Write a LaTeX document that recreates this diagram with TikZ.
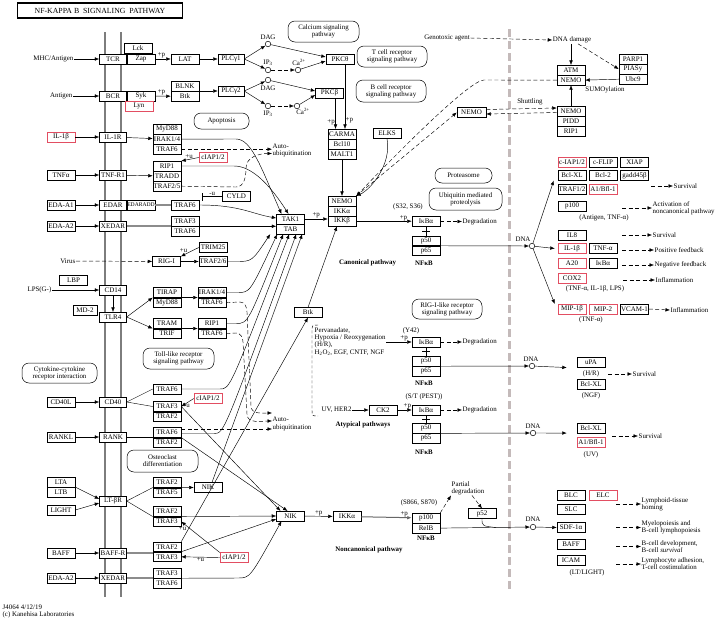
\documentclass[tikz,border=0pt]{standalone}
\usepackage{fontspec}
\setmainfont{Liberation Serif}
\usetikzlibrary{arrows.meta,positioning,calc}
\definecolor{vermelho}{RGB}{226,78,98}
\definecolor{membrana}{RGB}{125,125,125}
\definecolor{nucleo}{RGB}{196,186,186}
\newcommand\fgene{\fontsize{7}{7.4}\selectfont}
\newcommand\ftexto{\fontsize{6.9}{7.2}\selectfont}

\begin{document}
\begin{tikzpicture}[x=1pt, y=-1pt,
caixa/.style={draw, line width=0.5pt, fill=white, minimum width=28pt, minimum height=9.6pt, inner sep=0pt, font=\fgene},
verm/.style={caixa, draw=vermelho},
recep/.style={caixa, minimum width=27pt},
via/.style={draw, line width=0.5pt, rounded corners=7pt, align=center, inner sep=1pt, font=\ftexto},
rotulo/.style={font=\ftexto, inner sep=0.5pt, align=left},
negrito/.style={font=\ftexto\bfseries, inner sep=0.5pt},
seta/.style={-{Latex[length=4.5pt,width=3.6pt]}, line width=0.45pt},
tracejada/.style={seta, dash pattern=on 4pt off 2.5pt},
liga/.style={line width=1.4pt, draw=black!45},
bolinha/.style={circle, draw, line width=0.5pt, fill=white, minimum size=5.5pt, inner sep=0pt},
node distance=0pt
]
\useasboundingbox (0,0) rectangle (720,621);

% membrana e nucleo
\draw[membrana, line width=2pt] (105,32) -- (105,597);
\draw[membrana, line width=2pt] (121,32) -- (121,597);
\draw[nucleo, line width=3pt, dash pattern=on 8pt off 4pt] (509,29) -- (509,590);

\node[draw, line width=1.3pt, minimum width=165pt, minimum height=15pt, font=\fontsize{7.8}{8}\selectfont] (titulo) at (100,10.5) {NF-KAPPA B\ \ SIGNALING\ \ PATHWAY};

% ligantes
\node[rotulo, anchor=east] (mhc) at (74,59) {MHC/Antigen};
\node[rotulo, anchor=east] (antigen) at (73,96) {Antigen};
\node[verm] (il1b) at (61,137) {IL-1β};
\node[caixa] (tnfa) at (61,175) {TNFα};
\node[caixa] (edaa1) at (61,205) {EDA-A1};
\node[caixa] (edaa2) at (61,226) {EDA-A2};
\node[rotulo, anchor=east] (virus) at (76,261) {Virus};
\node[caixa] (lbp) at (73.5,280) {LBP};
\node[rotulo, anchor=east] (lps) at (52,290) {LPS(G-)};
\node[caixa, minimum width=24pt] (md2) at (85,310) {MD-2};
\node[via, minimum width=75pt, minimum height=20pt] (citoc) at (59.5,373) {Cytokine-cytokine\\receptor interaction};
\node[caixa] (cd40l) at (61,402) {CD40L};
\node[caixa] (rankl) at (61,437) {RANKL};
\node[caixa] (lta) at (61,482) {LTA};
\node[caixa, below=of lta] (ltb) {LTB};
\node[caixa] (light) at (61,510) {LIGHT};
\node[caixa] (baff) at (61,553) {BAFF};
\node[caixa] (edaa2b) at (61,578) {EDA-A2};

% receptores
\node[recep] (tcr) at (113,59) {TCR};
\node[caixa, right=of tcr] (zap) {Zap};
\node[caixa] (lck) at (138,48.4) {Lck};
\node[recep] (bcr) at (113,96) {BCR};
\node[caixa, right=of bcr] (syk) {Syk};
\node[verm, below=of syk, xshift=-2pt] (lyn) {Lyn};
\node[recep] (il1r) at (113,137) {IL-1R};
\node[recep] (tnfr1) at (113,175) {TNF-R1};
\node[recep] (edar) at (113,205) {EDAR};
\node[caixa, right=of edar, font=\fontsize{5.6}{6}\selectfont] (edaradd) {EDARADD};
\node[recep] (xedar) at (113,226) {XEDAR};
\node[recep] (cd14) at (113,290) {CD14};
\node[recep] (tlr4) at (113,317) {TLR4};
\node[recep] (cd40) at (113,402) {CD40};
\node[recep] (rank) at (113,437) {RANK};
\node[recep] (ltbr) at (113,501) {LT-βR};
\node[recep] (baffr) at (113,553) {BAFF-R};
\node[recep] (xedar2) at (113,578) {XEDAR};

% adaptadores
\node[caixa] (lat) at (185,59) {LAT};
\node[caixa, minimum width=26pt] (plcg1) at (231,59) {PLCγ1};
\node[caixa] (blnk) at (185,86.2) {BLNK};
\node[caixa, below=of blnk] (btk) {Btk};
\node[caixa, minimum width=26pt] (plcg2) at (231,91) {PLCγ2};
\node[caixa] (myd88) at (167,129) {MyD88};
\node[caixa, below=of myd88] (irak14) {IRAK1/4};
\node[caixa, below=of irak14] (traf6a) {TRAF6};
\node[verm] (ciap1) at (213,157.5) {cIAP1/2};
\node[caixa] (rip1a) at (167,166) {RIP1};
\node[caixa, below=of rip1a] (tradd) {TRADD};
\node[caixa, below=of tradd] (traf25) {TRAF2/5};
\node[caixa] (traf6e) at (185,205) {TRAF6};
\node[caixa] (cyld) at (236.5,196.5) {CYLD};
\coordinate (cyldfim) at (202,196.5);
\node[caixa] (traf3e) at (185,221.2) {TRAF3};
\node[caixa, below=of traf3e] (traf6f) {TRAF6};
\node[caixa] (trim25) at (213,247.5) {TRIM25};
\node[caixa] (rig) at (166.5,261.5) {RIG-I};
\node[caixa] (traf26) at (213,261.5) {TRAF2/6};
\node[caixa] (tirap) at (167,292.5) {TIRAP};
\node[caixa, below=of tirap] (myd88b) {MyD88};
\node[caixa] (irak14b) at (212,292.5) {IRAK1/4};
\node[caixa, below=of irak14b] (traf6g) {TRAF6};
\node[caixa] (tram) at (167,323.5) {TRAM};
\node[caixa, below=of tram] (trif) {TRIF};
\node[caixa] (rip1b) at (212,323.5) {RIP1};
\node[caixa, below=of rip1b] (traf6h) {TRAF6};
\node[via, minimum width=71pt, minimum height=21pt] (tollvia) at (178.5,358.5) {Toll-like receptor\\signaling pathway};
\node[caixa] (traf6d) at (167,389) {TRAF6};
\node[verm] (ciap2) at (208,398.5) {cIAP1/2};
\node[caixa] (traf3c) at (167,406.5) {TRAF3};
\node[caixa, below=of traf3c] (traf2c) {TRAF2};
\node[caixa] (traf6r) at (167,432.5) {TRAF6};
\node[caixa, below=of traf6r] (traf2r) {TRAF2};
\node[via, minimum width=71pt, minimum height=22pt] (osteo) at (162.5,461) {Osteoclast\\differentiation};
\node[caixa] (traf2l) at (167,482.5) {TRAF2};
\node[caixa, below=of traf2l] (traf5l) {TRAF5};
\node[caixa] (nik1) at (208,487.5) {NIK};
\node[caixa] (traf2m) at (167,511.5) {TRAF2};
\node[caixa, below=of traf2m] (traf3m) {TRAF3};
\node[caixa] (traf2b) at (167,546.7) {TRAF2};
\node[caixa, below=of traf2b] (traf3b) {TRAF3};
\node[verm] (ciap3) at (234,557.5) {cIAP1/2};
\node[caixa] (traf3x) at (167,573.2) {TRAF3};
\node[caixa, below=of traf3x] (traf6x) {TRAF6};

% segundos mensageiros
\node[bolinha] (dag1) at (268,44) {};
\node[bolinha] (ip31) at (268,70) {};
\node[bolinha] (ca1) at (298,70) {};
\node[bolinha] (dag2) at (268,80) {};
\node[bolinha] (ip32) at (268,106) {};
\node[bolinha] (ca2) at (297,106) {};
\node[rotulo] (ldag1) at (268,37) {DAG};
\node[rotulo] (lip31) at (268,63) {IP\textsubscript{3}};
\node[rotulo] (lca1) at (299,62.5) {Ca\textsuperscript{2+}};
\node[rotulo] (ldag2) at (268,88) {DAG};
\node[rotulo] (lip32) at (268,113.5) {IP\textsubscript{3}};
\node[rotulo] (lca2) at (303,111) {Ca\textsuperscript{2+}};

% vias
\node[via, minimum width=71pt, minimum height=21pt] (calcio) at (323.5,31.5) {Calcium signaling\\pathway};
\node[via, minimum width=70pt, minimum height=21pt] (tcrvia) at (392,56.5) {T cell receptor\\signaling pathway};
\node[via, minimum width=70pt, minimum height=22pt] (bcrvia) at (391,91) {B cell receptor\\signaling pathway};
\node[via, minimum width=55pt, minimum height=16pt] (apopt) at (221.5,121) {Apoptosis};
\node[via, minimum width=57pt, minimum height=15pt] (proteas) at (463.5,175.5) {Proteasome};
\node[via, minimum width=73pt, minimum height=22pt] (ubiq) at (465.5,199) {Ubiquitin mediated\\proteolysis};
\node[via, minimum width=70pt, minimum height=20pt] (rigvia) at (447,309) {RIG-I-like receptor\\signaling pathway};

% nucleo central
\node[caixa] (pkct) at (340,59) {PKCθ};
\node[caixa] (pkcb) at (329.5,93) {PKCβ};
\node[caixa] (carma) at (342,134) {CARMA};
\node[caixa, below=of carma] (bcl10) {Bcl10};
\node[caixa, below=of bcl10] (malt1) {MALT1};
\node[caixa] (elks) at (387,133.5) {ELKS};
\node[caixa, minimum width=29pt] (nemo2) at (471.5,112.5) {NEMO};
\node[caixa] (nemo) at (342,201) {NEMO};
\node[caixa, below=of nemo] (ikka) {IKKα};
\node[caixa, below=of ikka] (ikkb) {IKKβ};
\node[caixa] (tak1) at (290.5,219) {TAK1};
\node[caixa, below=of tak1] (tab) {TAB};
\node[caixa] (btkm) at (308,312.5) {Btk};
\node[caixa] (ck2) at (383,410) {CK2};
\node[caixa] (nik) at (290.5,516) {NIK};
\node[caixa] (ikka2) at (347,516.5) {IKKα};

\node[caixa] (ikba1) at (426,221.5) {IκBα};
\node[caixa] (p50a) at (426,240.7) {p50};
\node[caixa, below=of p50a] (p65a) {p65};
\node[caixa] (ikba2) at (426,342) {IκBα};
\node[caixa] (p50b) at (426,361.2) {p50};
\node[caixa, below=of p50b] (p65b) {p65};
\node[caixa] (ikba3) at (426,410) {IκBα};
\node[caixa] (p50c) at (426,428.3) {p50};
\node[caixa, below=of p50c] (p65c) {p65};
\node[caixa] (p100) at (426,518) {p100};
\node[caixa, below=of p100] (relb) {RelB};
\node[caixa] (p52) at (482,513.5) {p52};

% alvos no nucleo
\node[caixa] (atm) at (571,70) {ATM};
\node[caixa, below=of atm] (nemo3) {NEMO};
\node[caixa] (parp1) at (633,59) {PARP1};
\node[caixa, below=of parp1] (piasy) {PIASy};
\node[caixa, below=of piasy] (ubc9) {Ubc9};
\node[caixa] (nemo4) at (571,111) {NEMO};
\node[caixa, below=of nemo4] (pidd) {PIDD};
\node[caixa, below=of pidd] (rip1c) {RIP1};

\node[verm] (ciap4) at (572,162.5) {c-IAP1/2};
\node[caixa] (cflip) at (603,162.5) {c-FLIP};
\node[caixa] (xiap) at (634.5,162.5) {XIAP};
\node[caixa] (bclxl) at (572,175.5) {Bcl-XL};
\node[caixa] (bcl2) at (603,175.5) {Bcl-2};
\node[caixa] (gadd) at (634.5,175.5) {gadd45β};
\node[caixa] (traf12) at (572,189) {TRAF1/2};
\node[verm] (a1) at (603,189) {A1/Bfl-1};
\node[caixa] (p100n) at (572,206) {p100};
\node[caixa] (il8) at (572,235.5) {IL8};
\node[verm] (il1bn) at (572,248.5) {IL-1β};
\node[caixa] (tnfan) at (603,248.5) {TNF-α};
\node[verm] (a20) at (572,263) {A20};
\node[caixa] (ikban) at (603,263) {IκBα};
\node[verm] (cox2) at (572,278) {COX2};
\node[verm] (mip1b) at (572,309) {MIP-1β};
\node[verm] (mip2) at (603,309) {MIP-2};
\node[caixa] (vcam) at (634.5,309) {VCAM-1};
\node[caixa] (upa) at (591,362.5) {uPA};
\node[caixa] (bclxl2) at (591,384.5) {Bcl-XL};
\node[caixa] (bclxl3) at (591,428) {Bcl-XL};
\node[verm] (a1b) at (591,442) {A1/Bfl-1};
\node[caixa] (blc) at (571,495.5) {BLC};
\node[verm] (elc) at (603,495.5) {ELC};
\node[caixa] (slc) at (571,509.5) {SLC};
\node[caixa] (sdf) at (571,527.5) {SDF-1α};
\node[caixa] (baffn) at (571,544) {BAFF};
\node[caixa] (icam) at (571,560) {ICAM};

\node[bolinha] (dna1) at (532,246) {};
\node[bolinha] (dna2) at (532,366) {};
\node[bolinha] (dna3) at (533,433) {};
\node[bolinha] (dna4) at (533,527) {};
\node[rotulo] (ldna1) at (523,239) {DNA};
\node[rotulo] (ldna2) at (531,359) {DNA};
\node[rotulo] (ldna3) at (533,426.5) {DNA};
\node[rotulo] (ldna4) at (533,519.5) {DNA};

% textos
\node[rotulo] (genot) at (447,38) {Genotoxic agent};
\node[rotulo] (dnadmg) at (572,40) {DNA damage};
\node[rotulo] (sumo) at (605,90) {SUMOylation};
\node[rotulo] (shut) at (530,101.5) {Shuttling};
\node[rotulo, anchor=west] (autoub1) at (272,150.5) {Auto-\\ubiquitination};
\node[rotulo, anchor=west] (autoub2) at (272,424) {Auto-\\ubiquitination};
\node[rotulo, anchor=west] (degr1) at (462,221.5) {Degradation};
\node[rotulo, anchor=west] (degr2) at (462,342) {Degradation};
\node[rotulo, anchor=west] (degr3) at (462,410) {Degradation};
\node[rotulo] (s32) at (408,207) {(S32, S36)};
\node[rotulo] (y42) at (411,330.5) {(Y42)};
\node[rotulo] (pest) at (424,397) {(S/T (PEST))};
\node[rotulo] (s866) at (419,503) {(S866, S870)};
\node[negrito] (nfkb1) at (424,263) {NFκB};
\node[negrito] (nfkb2) at (424,383) {NFκB};
\node[negrito] (nfkb3) at (424,452) {NFκB};
\node[negrito] (nfkb4) at (426,538.5) {NFκB};
\node[negrito] (canon) at (367.5,263) {Canonical pathway};
\node[negrito] (atip) at (363,425) {Atypical pathways};
\node[negrito] (noncan) at (369,550) {Noncanonical pathway};
\node[rotulo, anchor=north west] (perv) at (314,327) {Pervanadate,\\Hypoxia / Reoxygenation\\(H/R),\\H\textsubscript{2}O\textsubscript{2}, EGF, CNTF, NGF};
\node[rotulo, anchor=west] (uv) at (321,410) {UV, HER2};
\node[rotulo, anchor=west] (parcial) at (451,488) {Partial\\degradation};

\node[rotulo] (antnf) at (604,218) {(Antigen, TNF-α)};
\node[rotulo] (tnfil) at (595,288.5) {(TNF-α, IL-1β, LPS)};
\node[rotulo] (ltnf) at (591,320) {(TNF-α)};
\node[rotulo] (lhr) at (591,373.5) {(H/R)};
\node[rotulo] (lngf) at (591,395.5) {(NGF)};
\node[rotulo] (luv) at (591,455) {(UV)};
\node[rotulo] (llt) at (587,573) {(LT/LIGHT)};

\node[rotulo, anchor=west] (surv1) at (673,186) {Survival};
\node[rotulo, anchor=west] (ativ) at (652,208) {Activation of\\noncanonical pathway};
\node[rotulo, anchor=west] (surv2) at (652,235) {Survival};
\node[rotulo, anchor=west] (posfb) at (654,250) {Positive feedback};
\node[rotulo, anchor=west] (negfb) at (654,265) {Negative feedback};
\node[rotulo, anchor=west] (infl1) at (655,280) {Inflammation};
\node[rotulo, anchor=west] (infl2) at (670,310) {Inflammation};
\node[rotulo, anchor=west] (surv3) at (632,374) {Survival};
\node[rotulo, anchor=west] (surv4) at (638,436) {Survival};
\node[rotulo, anchor=west] (linf) at (641,504) {Lymphoid-tissue\\homing};
\node[rotulo, anchor=west] (mielo) at (641,527.5) {Myelopoiesis and\\B-cell lymphopoiesis};
\node[rotulo, anchor=west] (bdev) at (641,546.5) {B-cell development,\\B-cell \textit{survival}};
\node[rotulo, anchor=west] (ladh) at (641,564) {Lymphocyte adhesion,\\T-cell costimulation};

\node[rotulo, anchor=west] (rodape1) at (2,607) {J4064 4/12/19};
\node[rotulo, anchor=west] (rodape2) at (2,614.5) {(c) Kanehisa Laboratories};

% receptores de antigeno
\draw[seta] (mhc) -- (tcr);
\draw[seta] (zap) -- node[above, rotulo, pos=0.4] {+p} (lat);
\draw[seta] (lat) -- (plcg1);
\draw[seta] (plcg1.east) -- (dag1);
\draw[seta] (plcg1.east) -- (ip31);
\draw[tracejada] (ip31) -- (ca1);
\draw[seta] (dag1) -- ([yshift=2pt]pkct.west);
\draw[seta] (ca1) -- ([yshift=-2pt]pkct.west);
\draw[seta] (antigen) -- (bcr);
\draw[seta] (syk) -- node[above, rotulo, pos=0.4] {+p} (btk);
\draw[seta] (blnk.east |- plcg2) -- (plcg2);
\draw[seta] (plcg2.east) -- (dag2);
\draw[seta] (plcg2.east) -- (ip32);
\draw[tracejada] (ip32) -- (ca2);
\draw[seta] (dag2) -- ([yshift=2pt]pkcb.west);
\draw[seta] (ca2) -- ([yshift=-2pt]pkcb.west);
\draw[seta] ([xshift=6pt]pkcb.south) -- node[left, rotulo, pos=0.8] {+p} ([xshift=6pt]pkcb.south |- carma.north);
\draw[seta] ([xshift=5pt]pkct.south) -- node[right, rotulo, pos=0.87] {+p} ([xshift=5pt]pkct.south |- carma.north);
\draw[seta] (malt1) -- (nemo);

% IL-1, TNF, EDA
\draw[seta] (il1b) -- (il1r);
\draw[seta] (il1r) -- (irak14);
\draw[seta] (tnfa) -- (tnfr1);
\draw[seta] (tnfr1) -- (tradd);
\draw[seta] (edaa1) -- (edar);
\draw[liga] (edaradd) -- (traf6e);
\draw[seta] (edaa2) -- (xedar);
\draw[liga] (xedar.east) -- (xedar.east -| traf3e.west);
\draw[seta] (ciap1.west) -- node[above, rotulo, pos=0.55] {+u} (rip1a.north east);
\draw[-{Bar[width=8pt]}, line width=0.45pt] (cyld.west) -- node[above, rotulo] {-u} (cyldfim);
\draw[tracejada] (traf6a.east) -- (traf6a.east -| autoub1.west);
\draw[tracejada] (traf25.east) -- (236,187) to[out=0, in=-90] (246,168) to[out=90, in=180] ([yshift=-3pt]autoub1.west);
\draw[seta] (irak14.east) -- (236,139) .. controls (252,139) and (262,170) .. ([xshift=-9pt]tak1.north);
\draw[seta] (rip1a.east) -- (234,166) .. controls (252,166) and (270,185) .. ([xshift=-2pt]tak1.north);
\draw[seta] (traf6e.east) .. controls (240,205) and (252,214) .. ([yshift=1pt]tak1.west);
\draw[seta] (traf3e.south east) -- (traf3e.south east -| tab.west);

% RIG-I e TLR4
\draw[tracejada] (virus) -- (rig);
\draw[seta] (rig) -- (traf26);
\draw[seta] (trim25.west) -- node[above left, rotulo, pos=0.6] {+u} (rig.north east);
\draw[seta] (lps) -- (cd14);
\draw[seta] (cd14) -- (tlr4);
\draw[seta] (tlr4.east) -- (tirap.south west);
\draw[seta] (tlr4.east) -- (tram.south west);
\draw[seta] (tirap.south east) -- (irak14b.south west);
\draw[seta] (tram.south east) -- (rip1b.south west);
\draw[tracejada] (traf6g.east) -- (240,302) to[out=0, in=90] (247,312) -- (251,406) to[out=-90, in=180] ([yshift=11pt]autoub2.west);
\draw[tracejada] (traf6h.east) -- (236,333) to[out=0, in=90] (243,342) -- (247,414) to[out=-90, in=180] ([yshift=3pt]autoub2.west);
\draw[tracejada] ([yshift=3.5pt]traf6r.east) -- ([yshift=-5pt]autoub2.west);

% CD40, RANK, LT, BAFF
\draw[seta] (cd40l) -- (cd40);
\draw (cd40.east) -- (traf6d.west);
\draw (cd40.east) -- (traf3c.west);
\draw[seta] (ciap2.west) -- node[below, rotulo, pos=0.6] {+u} (traf3c.east);
\draw[seta] (rankl) -- (rank);
\draw (rank.east) -- (rank.east -| traf6r.west);
\draw[seta] (lta.south east) -- ([yshift=2pt]ltbr.west);
\draw[seta] (light.east) -- ([yshift=-2pt]ltbr.west);
\draw (ltbr.east) -- (traf2l.south west);
\draw (ltbr.east) -- (traf2m.south west);
\draw[seta] (traf2l.south east) -- (nik1.west);
\draw[seta] (baff) -- (baffr);
\draw[liga] (baffr.east) -- (baffr.east -| traf2b.west);
\draw[seta] (edaa2b) -- (xedar2);
\draw[liga] (xedar2.east) -- (xedar2.east -| traf3x.west);
\draw[seta] (ciap3.west) -- node[below, rotulo] {+u} (traf3b.east);
\draw[seta] (ciap3.north west) -- node[below left, rotulo, pos=0.85] {+u} (traf3m.east);

% para TAK1/TAB
\draw[seta] (traf26.east) -- (236,261.5) .. controls (252,261.5) .. ([xshift=-6pt]tab.south west);
\draw[seta] (irak14b.east) -- (238,292.5) .. controls (250,292.5) .. ([xshift=1pt]tab.south west);
\draw[seta] (rip1b.east) -- (236,323.5) .. controls (248,323.5) .. ([xshift=7pt]tab.south west);
\draw[seta] (traf6d.east) -- (220,389) .. controls (230,389) .. ([xshift=13pt]tab.south west);
\draw[seta] ([yshift=-1pt]traf6r.east) -- (214,433.5) .. controls (224,433.5) .. ([xshift=20pt]tab.south west);
\draw[seta] ([xshift=4pt]nik1.north) -- ([xshift=26pt]tab.south west);
\draw[seta] (tak1.east) -- node[above, rotulo] {+p} (tak1.east -| ikkb.west);

% para NIK
\draw[seta] (traf3c.east) -- ([xshift=-10pt]nik.north);
\draw[seta] (traf2r.north east) -- ([xshift=-3pt]nik.north);
\draw[seta] (traf2m.south east) -- (nik.west);
\draw[seta] (traf2b.south east) -- ([yshift=-3pt]nik.west);
\draw[seta] (traf2b.north east) -- (btkm.south);
\draw[seta] (traf3x.south east) -- (238,578) .. controls (250,578) .. ([xshift=-9pt]nik.south);
\draw[seta] (nik) -- node[above, rotulo, pos=0.5] {+p} (ikka2);
\draw[seta, draw=black!60, line width=1pt] (ikka2) -- node[above, rotulo, pos=0.85] {+p} (p100);
\draw[seta] (btkm.north) -- ([xshift=-5pt]ikkb.south);

% IKK e NEMO
\draw[seta] (elks.south) .. controls (392,165) and (370,190) .. (nemo.north east);
\draw[tracejada] (nemo3.west) -- (484,80) .. controls (470,80) and (400,150) .. (nemo.north east);
\draw[tracejada] (nemo.north east) -- (nemo2.west);
\draw[tracejada] ([yshift=3pt]nemo2.east) -- ([yshift=3pt]nemo4.west);
\draw[tracejada] ([yshift=-1.5pt]nemo4.west) -- ([yshift=-1.5pt]nemo2.east);
\draw[tracejada] (genot.east) -- (dnadmg.west);
\draw[seta] (atm.north |- dnadmg.south) -- (atm.north);
\draw[tracejada] ([xshift=6pt]dnadmg.south) -- (piasy.west);
\draw[seta] (ubc9.west) -- (nemo3.east);
\draw[seta] (nemo4) -- (nemo3);

% IkB
\draw[seta] (ikkb.east) -- node[above, rotulo, pos=0.85] {+p} (ikkb.east -| ikba1.west);
\draw (ikba1.south) -- coordinate (m1) (p50a.north);
\draw ([xshift=-4pt]m1) -- ([xshift=4pt]m1);
\draw[tracejada] (ikba1.east) -- (degr1.west);
\draw[seta] (perv.east |- ikba2.west) -- node[above, rotulo, pos=0.7] {+p} (ikba2.west);
\draw (ikba2.south) -- coordinate (m2) (p50b.north);
\draw ([xshift=-4pt]m2) -- ([xshift=4pt]m2);
\draw[tracejada] (ikba2.east) -- (degr2.west);
\draw[seta] (uv) -- (ck2);
\draw[seta] (ck2) -- node[above, rotulo, pos=0.7] {+p} (ikba3);
\draw (ikba3.south) -- coordinate (m3) (p50c.north);
\draw ([xshift=-4pt]m3) -- ([xshift=4pt]m3);
\draw[tracejada] (ikba3.east) -- (degr3.west);
\draw[dash pattern=on 3pt off 2pt, line width=0.45pt] (318,325) .. controls (312,325) .. (312,332) -- (312,410) .. controls (312,416) .. (318,416);

% para o DNA
\draw[seta] (p50a.south east) -- (dna1);
\draw[seta] (p50b.south east) -- (dna2);
\draw[seta] (p50c.south east) -- (dna3);
\draw[seta] (relb.east) -- (dna4);
\draw[tracejada] (p100.north east) -- (parcial.south west);
\draw[tracejada] ([xshift=4pt]parcial.south) -- (p52.north);
\draw (p52.south) .. controls (482,526) .. (496,527.5);
\draw[seta] (dna1) -- ([xshift=-4pt]bclxl.south west);
\draw[seta] (dna1) -- ([xshift=-3pt]il1bn.west);
\draw[seta] (dna1) -- ([xshift=-3pt]mip1b.north west);
\draw[seta] (dna2) -- ([xshift=-10pt]upa.south west);
\draw[seta] (dna3) -- ([xshift=-10pt]bclxl3.south west);
\draw[seta] (dna4) -- (sdf.west);

% fenotipos
\draw[tracejada] ([xshift=-22pt]surv1.west) -- (surv1.west);
\draw[tracejada] ([xshift=-30pt]ativ.west) -- (ativ.west);
\draw[tracejada] ([xshift=-30pt]surv2.west) -- (surv2.west);
\draw[tracejada] ([xshift=-32pt]posfb.west) -- (posfb.west);
\draw[tracejada] ([xshift=-32pt]negfb.west) -- (negfb.west);
\draw[tracejada] ([xshift=-32pt]infl1.west) -- (infl1.west);
\draw[tracejada] (vcam.east) -- (infl2.west);
\draw[tracejada] ([xshift=-24pt]surv3.west) -- (surv3.west);
\draw[tracejada] ([xshift=-26pt]surv4.west) -- (surv4.west);
\draw[tracejada] ([xshift=-25pt]linf.west) -- (linf.west);
\draw[tracejada] ([xshift=-25pt]mielo.west) -- (mielo.west);
\draw[tracejada] ([xshift=-25pt]bdev.west) -- (bdev.west);
\draw[tracejada] ([xshift=-25pt]ladh.west) -- (ladh.west);
\end{tikzpicture}
\end{document}
